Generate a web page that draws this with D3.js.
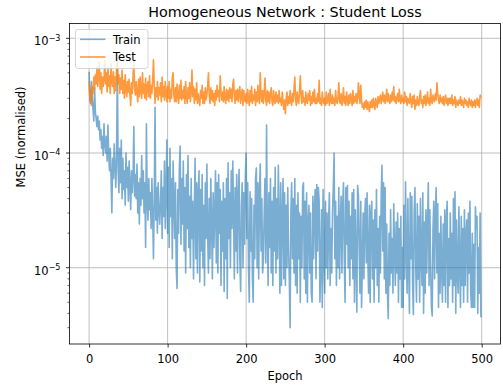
<!DOCTYPE html>
<html>
<head>
<meta charset="utf-8">
<script src="https://cdn.jsdelivr.net/npm/d3@7"></script>
<style>
  html, body { margin: 0; padding: 0; background: #fff; }
  svg { display: block; font-family: "DejaVu Sans", sans-serif; }
</style>
</head>
<body>
<svg id="chart" width="503" height="385"></svg>
<script>
// Per-epoch student loss (MSE, normalised), values in units of 1e-6.
const trainLossMicro = [
  510, 290, 270, 420, 300, 240, 190, 370, 230, 200,
  170, 210, 160, 190, 130, 160, 110, 140, 95, 180,
  120, 100, 140, 85, 175, 95, 70, 110, 60, 30,
  90, 60, 120, 75, 50, 95, 600, 70, 45, 110,
  55, 130, 40, 90, 48, 70, 35, 100, 50, 75,
  38, 85, 52, 32, 70, 45, 60, 170, 42, 65,
  40, 80, 30, 55, 24, 60, 35, 95, 40, 70,
  30, 55, 15, 180, 38, 26, 60, 32, 45, 22,
  60, 28, 12, 40, 250, 26, 50, 20, 55, 32,
  24, 37, 70, 18, 50, 28, 85, 22, 45, 130,
  20, 75, 15, 110, 28, 60, 12, 85, 40, 18,
  55, 10, 6.6, 48, 20, 75, 115, 16, 60, 24,
  85, 14, 50, 9, 65, 22, 95, 15, 42, 10,
  60, 18, 38, 8, 30, 90, 12, 55, 9, 45,
  70, 7.5, 48, 14, 65, 10, 35, 7, 55, 18,
  80, 20, 9, 40, 12, 60, 25, 8, 45, 15,
  30, 70, 11, 55, 9, 65, 20, 48, 7, 38,
  14, 55, 6.2, 40, 12, 60, 5.4, 82, 18, 45,
  10, 70, 22, 85, 30, 8, 50, 14, 65, 9,
  40, 72, 12, 6.2, 35, 55, 10, 45, 16, 62,
  100, 18, 55, 10, 5, 46, 14, 40, 8, 5,
  35, 12, 60, 74, 10, 55, 8, 45, 80, 14,
  40, 9, 12, 30, 60, 11, 175, 20, 7, 45,
  15, 60, 9, 38, 7, 50, 14, 75, 9, 40,
  12, 78, 25, 6, 55, 7, 28, 60, 8, 45,
  7, 35, 10, 50, 15, 8, 3, 30, 55, 12,
  40, 9, 60, 7, 35, 6, 45, 12, 30, 5,
  28, 10, 50, 55, 8, 38, 6, 45, 5, 25,
  35, 9, 30, 6, 5, 42, 12, 33, 48, 8,
  53, 14, 50, 38, 5, 10, 32, 4.5, 48, 12,
  6, 38, 10, 30, 8, 25, 45, 7, 22, 9,
  30, 48, 100, 12, 38, 7, 28, 10, 50, 8,
  25, 42, 9, 35, 55, 12, 5, 50, 16, 52,
  10, 38, 7, 28, 12, 45, 8, 48, 5, 32,
  12, 4.1, 52, 43, 14, 6, 38, 4.5, 10, 30,
  8, 28, 40, 11, 45, 12, 6, 35, 5, 30,
  38, 8, 26, 5, 32, 10, 48, 7, 22, 5,
  28, 9, 42, 78, 14, 55, 8, 50, 6, 24,
  6, 3.6, 20, 7, 32, 9, 18, 6, 36, 14,
  7, 25, 9, 30, 5, 22, 8, 28, 4.5, 15,
  4.5, 35, 8, 56, 14, 6, 40, 10, 4, 45,
  12, 42, 7, 3.9, 30, 50, 10, 5, 36, 8,
  28, 5, 40, 12, 7, 45, 4, 25, 6, 32,
  9, 24, 55, 7, 32, 10, 4.5, 3.8, 22, 38,
  8, 30, 50, 9, 36, 4.5, 20, 6, 28, 10,
  5, 24, 7, 32, 5, 26, 38, 4.5, 18, 7,
  30, 8, 20, 5, 40, 7, 46, 4, 26, 9,
  6, 34, 10, 4.5, 28, 7, 22, 5, 32, 7,
  20, 26, 5, 30, 9, 38, 6, 4.5, 20, 4.5,
  16, 4.5, 34, 22, 28, 4, 15, 6, 30, 3.7
];

const testLossMicro = [
  420, 300, 350, 260, 380, 330, 460, 360, 480, 400,
  560, 380, 470, 620, 360, 500, 330, 460, 380, 440,
  640, 400, 500, 340, 560, 380, 470, 330, 600, 420,
  380, 510, 330, 460, 350, 540, 640, 400, 480, 330,
  450, 360, 530, 330, 430, 300, 480, 360, 310, 420,
  340, 440, 320, 260, 410, 330, 470, 630, 360, 320,
  420, 330, 280, 440, 310, 460, 350, 300, 500, 330,
  400, 300, 450, 290, 380, 420, 310, 470, 300, 390,
  330, 440, 650, 380, 270, 370, 310, 420, 290, 370,
  320, 410, 280, 460, 310, 380, 290, 420, 330, 280,
  380, 300, 420, 280, 360, 300, 450, 500, 320, 280,
  370, 280, 400, 320, 270, 390, 300, 430, 290, 350,
  300, 380, 270, 420, 310, 270, 370, 300, 410, 280,
  340, 530, 310, 380, 270, 360, 290, 410, 270, 330,
  290, 260, 350, 300, 390, 270, 340, 270, 370, 290,
  320, 390, 500, 320, 270, 370, 290, 350, 280, 330,
  260, 350, 290, 390, 310, 350, 280, 470, 340, 290,
  340, 280, 380, 300, 270, 360, 290, 350, 280, 370,
  300, 360, 280, 390, 440, 310, 270, 350, 290, 360,
  280, 340, 380, 270, 320, 360, 260, 350, 290, 280,
  330, 270, 360, 290, 260, 350, 280, 380, 270, 320,
  290, 360, 260, 340, 280, 390, 300, 270, 500, 310,
  280, 350, 270, 330, 450, 290, 260, 350, 280, 340,
  270, 330, 370, 280, 260, 350, 290, 270, 340, 280,
  320, 270, 350, 280, 300, 260, 340, 280, 240, 290,
  220, 300, 340, 260, 310, 270, 350, 280, 260, 330,
  280, 360, 460, 290, 260, 340, 280, 270, 350, 470,
  310, 270, 350, 280, 300, 260, 340, 280, 270, 330,
  290, 350, 260, 310, 270, 340, 280, 360, 270, 300,
  270, 330, 280, 430, 270, 300, 260, 340, 290, 270,
  300, 260, 340, 270, 290, 330, 260, 360, 280, 270,
  320, 270, 300, 260, 350, 280, 270, 310, 410, 280,
  270, 330, 260, 300, 370, 270, 310, 260, 340, 290,
  260, 320, 270, 330, 290, 260, 350, 270, 310, 280,
  330, 270, 300, 410, 320, 270, 390, 290, 250, 270,
  240, 280, 250, 290, 240, 280, 250, 230, 280, 250,
  290, 250, 300, 260, 240, 300, 270, 250, 310, 270,
  290, 320, 270, 300, 340, 280, 320, 270, 300, 360,
  280, 330, 290, 270, 320, 280, 340, 290, 380, 280,
  310, 270, 300, 330, 280, 360, 290, 270, 320, 280,
  300, 270, 340, 280, 310, 260, 300, 280, 270, 330,
  280, 250, 310, 270, 320, 240, 290, 260, 310, 270,
  260, 310, 350, 270, 290, 250, 310, 270, 320, 260,
  290, 340, 270, 300, 260, 360, 280, 270, 320, 290,
  280, 330, 290, 410, 330, 290, 270, 320, 280, 300,
  270, 310, 260, 290, 320, 270, 300, 260, 300, 270,
  300, 270, 320, 260, 290, 270, 310, 250, 290, 270,
  260, 290, 270, 310, 260, 290, 270, 250, 300, 270,
  290, 260, 280, 250, 300, 270, 260, 290, 250, 280,
  260, 290, 250, 280, 300, 260, 290, 250, 320, 300
];

const MICRO = 1e-6;
const trainLoss = trainLossMicro.map(v => v * MICRO);
const testLoss = testLossMicro.map(v => v * MICRO);
const epochs = d3.range(trainLoss.length);

const seriesNames = ["Train", "Test"];
const xTicks = [0, 100, 200, 300, 400, 500];
const yTickExponents = [-3, -4, -5];

const titleText = "Homogeneous Network : Student Loss";
const xLabelText = "Epoch";
const yLabelText = "MSE (normalised)";

// ---- layout ----
const svg = d3.select("#chart");
const plot = { left: 69.5, right: 500.5, top: 23.5, bottom: 344 };
const fontSize = 11.5;
const titleSize = 14.3;

const xPad = 0.05 * (epochs.length - 1);
const x = d3.scaleLinear()
  .domain([-xPad, epochs.length - 1 + xPad])
  .range([plot.left, plot.right]);

const y = d3.scaleLog()
  .domain([Math.pow(10, -5.665), Math.pow(10, -2.871)])
  .range([plot.bottom, plot.top]);

const colors = { Train: "#1f77b4", Test: "#ff7f0e" };
const alphas = { Train: 0.6, Test: 0.8 };

// grid
const grid = svg.append("g").attr("class", "grid");
grid.selectAll("line.gx").data(xTicks).join("line")
  .attr("x1", d => x(d)).attr("x2", d => x(d))
  .attr("y1", plot.top).attr("y2", plot.bottom)
  .attr("stroke", "#b0b0b0").attr("stroke-width", 0.8);
grid.selectAll("line.gy").data(yTickExponents).join("line")
  .attr("x1", plot.left).attr("x2", plot.right)
  .attr("y1", d => y(Math.pow(10, d))).attr("y2", d => y(Math.pow(10, d)))
  .attr("stroke", "#b0b0b0").attr("stroke-width", 0.8);

// data lines
svg.append("clipPath").attr("id", "plotClip")
  .append("rect")
  .attr("x", plot.left).attr("y", plot.top)
  .attr("width", plot.right - plot.left).attr("height", plot.bottom - plot.top);

const line = d3.line().x((d, i) => x(epochs[i])).y(d => y(d));
const seriesData = { Train: trainLoss, Test: testLoss };
const lines = svg.append("g").attr("clip-path", "url(#plotClip)");
seriesNames.forEach(name => {
  lines.append("path")
    .datum(seriesData[name])
    .attr("d", line)
    .attr("fill", "none")
    .attr("stroke", colors[name])
    .attr("stroke-opacity", alphas[name])
    .attr("stroke-width", 1.6)
    .attr("stroke-linejoin", "round");
});

// x axis
const xAxis = d3.axisBottom(x).tickValues(xTicks).tickSize(3.5).tickPadding(7.3)
  .tickFormat(d3.format("d"));
const gx = svg.append("g").attr("transform", `translate(0,${plot.bottom})`).call(xAxis);
gx.select(".domain").remove();
gx.selectAll(".tick line").attr("stroke", "#000").attr("stroke-width", 0.8);
gx.selectAll(".tick text").attr("font-size", fontSize).attr("fill", "#000")
  .attr("font-family", "DejaVu Sans");

// y axis: major ticks (decades) and minor ticks (2..9 × decade)
const minorVals = [];
for (let e = -6; e <= -3; e++) {
  for (let m = 2; m <= 9; m++) {
    const v = m * Math.pow(10, e);
    if (v >= y.domain()[0] && v <= y.domain()[1]) minorVals.push(v);
  }
}
const gy = svg.append("g");
gy.selectAll("line.minor").data(minorVals).join("line")
  .attr("x1", plot.left - 2).attr("x2", plot.left)
  .attr("y1", d => y(d)).attr("y2", d => y(d))
  .attr("stroke", "#000").attr("stroke-width", 0.6);
gy.selectAll("line.major").data(yTickExponents).join("line")
  .attr("x1", plot.left - 3.5).attr("x2", plot.left)
  .attr("y1", d => y(Math.pow(10, d))).attr("y2", d => y(Math.pow(10, d)))
  .attr("stroke", "#000").attr("stroke-width", 0.8);

const yLabels = gy.selectAll("text.ylab").data(yTickExponents).join("text")
  .attr("x", 60.5)
  .attr("y", d => y(Math.pow(10, d)) + 6.9)
  .attr("text-anchor", "end")
  .attr("font-size", fontSize)
  .attr("fill", "#000");
yLabels.append("tspan").text("10");
yLabels.append("tspan")
  .attr("font-size", fontSize * 0.7)
  .attr("dy", -4.6)
  .text(d => "\u2212" + Math.abs(d));

// frame
svg.append("rect")
  .attr("x", plot.left).attr("y", plot.top)
  .attr("width", plot.right - plot.left).attr("height", plot.bottom - plot.top)
  .attr("fill", "none").attr("stroke", "#000").attr("stroke-width", 0.8);

// title and axis labels
svg.append("text")
  .attr("x", (plot.left + plot.right) / 2).attr("y", 16.5)
  .attr("text-anchor", "middle").attr("font-size", titleSize).attr("fill", "#000")
  .text(titleText);
svg.append("text")
  .attr("x", (plot.left + plot.right) / 2).attr("y", 380)
  .attr("text-anchor", "middle").attr("font-size", fontSize).attr("fill", "#000")
  .text(xLabelText);
svg.append("text")
  .attr("transform", "translate(24.5,137) rotate(-90)")
  .attr("text-anchor", "middle").attr("font-size", fontSize).attr("fill", "#000")
  .text(yLabelText);

// legend
const legend = svg.append("g").attr("transform", `translate(${plot.left + 6},${plot.top + 6})`);
legend.append("rect")
  .attr("x", 0).attr("y", 0).attr("width", 72.5).attr("height", 39)
  .attr("rx", 2.5).attr("ry", 2.5)
  .attr("fill", "#fff").attr("fill-opacity", 0.8)
  .attr("stroke", "#cccccc").attr("stroke-width", 0.8);
seriesNames.forEach((name, i) => {
  const ly = 9.8 + i * 17.7;
  legend.append("line")
    .attr("x1", 4.5).attr("x2", 30).attr("y1", ly).attr("y2", ly)
    .attr("stroke", colors[name]).attr("stroke-opacity", alphas[name])
    .attr("stroke-width", 1.6);
  legend.append("text")
    .attr("x", 37.5).attr("y", ly + 4.2)
    .attr("font-size", fontSize).attr("fill", "#000")
    .text(name);
});
</script>
</body>
</html>
